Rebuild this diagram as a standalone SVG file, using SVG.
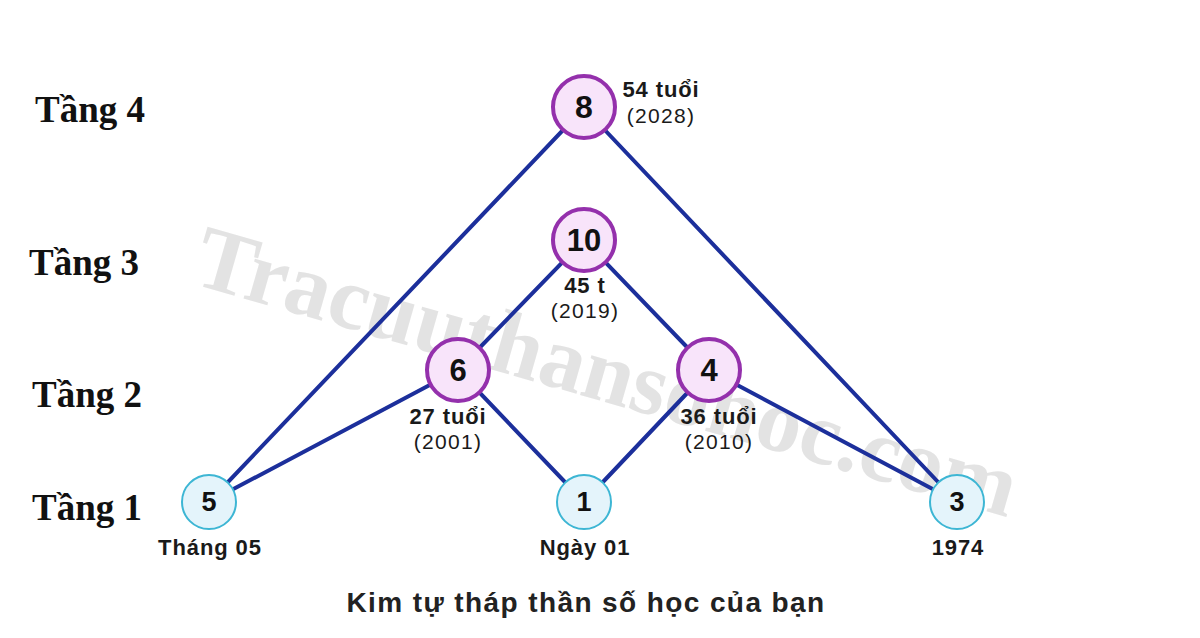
<svg xmlns="http://www.w3.org/2000/svg" width="1200" height="638" viewBox="0 0 1200 638">
<style>
.tier{font-family:"Liberation Serif","Times New Roman",serif;font-weight:bold;font-size:37px;fill:#111}
.edge{stroke:#1c2f9b;stroke-width:4;fill:none;stroke-linecap:round}
.up{fill:#f8e4fa;stroke:#9430ac;stroke-width:4}
.low{fill:#e4f4fb;stroke:#3db6d4;stroke-width:2}
.num{font-family:"Liberation Sans",Arial,sans-serif;font-weight:bold;fill:#111;text-anchor:middle}
.lb{font-family:"Liberation Sans",Arial,sans-serif;font-weight:bold;font-size:22px;letter-spacing:0.9px;fill:#1a1a1a;text-anchor:middle}
.ly{font-family:"Liberation Sans",Arial,sans-serif;font-size:21px;letter-spacing:1.3px;fill:#1a1a1a;text-anchor:middle}
.wm{font-family:"Liberation Serif","Times New Roman",serif;font-weight:bold;font-size:90px;fill:#cccccc;fill-opacity:0.55}
</style>
<rect width="1200" height="638" fill="#ffffff"/>
<text class="wm" transform="translate(190,283) rotate(16)">Tracuuthansohoc.com</text>
<g id="tiers">
<text class="tier" x="35" y="122">Tầng 4</text>
<text class="tier" x="29" y="275">Tầng 3</text>
<text class="tier" x="32" y="407">Tầng 2</text>
<text class="tier" x="32" y="520">Tầng 1</text>
</g>
<g id="connectors">
<line class="edge" x1="209" y1="502" x2="584" y2="108"/>
<line class="edge" x1="209" y1="502" x2="458" y2="370"/>
<line class="edge" x1="458" y1="370" x2="584" y2="240"/>
<line class="edge" x1="458" y1="370" x2="584" y2="502"/>
<line class="edge" x1="584" y1="240" x2="709" y2="370"/>
<line class="edge" x1="584" y1="502" x2="709" y2="370"/>
<line class="edge" x1="709" y1="370" x2="957" y2="502"/>
<line class="edge" x1="584" y1="108" x2="957" y2="502"/>
</g>
<g id="node-8">
<circle class="up" cx="584" cy="107" r="31"/>
<text class="num" x="584" y="118" font-size="32">8</text>
<text class="lb" x="661" y="97">54 tuổi</text>
<text class="ly" x="661" y="123">(2028)</text>
</g>
<g id="node-10">
<circle class="up" cx="584" cy="240" r="31"/>
<text class="num" x="584" y="251" font-size="31">10</text>
<text class="lb" x="585" y="293">45 t</text>
<text class="ly" x="585" y="318">(2019)</text>
</g>
<g id="node-6">
<circle class="up" cx="458" cy="370" r="31"/>
<text class="num" x="458" y="381" font-size="31">6</text>
<text class="lb" x="448" y="424">27 tuổi</text>
<text class="ly" x="448" y="449">(2001)</text>
</g>
<g id="node-4">
<circle class="up" cx="709" cy="370" r="31"/>
<text class="num" x="709" y="381" font-size="31">4</text>
<text class="lb" x="719" y="424">36 tuổi</text>
<text class="ly" x="719" y="449">(2010)</text>
</g>
<g id="node-5">
<circle class="low" cx="209" cy="502" r="27"/>
<text class="num" x="209" y="511" font-size="27">5</text>
<text class="lb" x="210" y="555">Tháng 05</text>
</g>
<g id="node-1">
<circle class="low" cx="584" cy="502" r="27"/>
<text class="num" x="584" y="511" font-size="27">1</text>
<text class="lb" x="585" y="555">Ngày 01</text>
</g>
<g id="node-3">
<circle class="low" cx="957" cy="502" r="27"/>
<text class="num" x="957" y="511" font-size="27">3</text>
<text class="lb" x="958" y="555">1974</text>
</g>
<text x="586" y="612" font-family="Liberation Sans,Arial,sans-serif" font-weight="bold" font-size="28" letter-spacing="1.4" fill="#222" text-anchor="middle">Kim tự tháp thần số học của bạn</text>
</svg>
